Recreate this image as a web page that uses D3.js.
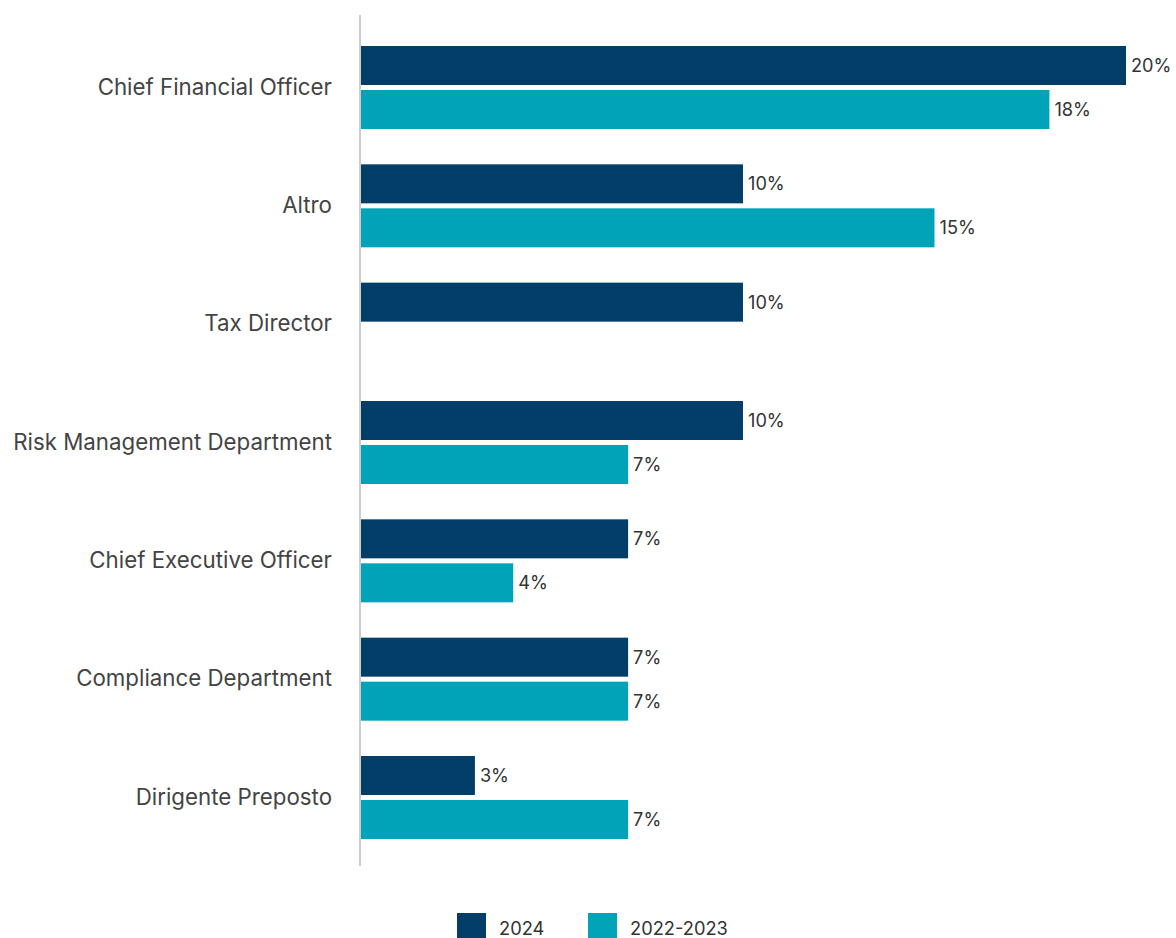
<!DOCTYPE html>
<html><head><meta charset="utf-8">
<script src="https://cdn.jsdelivr.net/npm/d3@7"></script>
<style>
html,body{margin:0;padding:0;background:#fff;}
svg{display:block;font-family:Inter, "Noto Sans", sans-serif;}
</style></head>
<body>
<svg id="chart" width="1176" height="938"></svg>
<script>
const categories = ["Chief Financial Officer","Altro","Tax Director","Risk Management Department","Chief Executive Officer","Compliance Department","Dirigente Preposto"];
const seriesNames = ["2024","2022-2023"];
const values2024 = [20,10,10,10,7,7,3];
const values2022 = [18,15,null,7,4,7,7];
const seriesColors = ["#023e68","#00a3b8"];

const svg = d3.select("#chart");
const x0 = 360;
const x = d3.scaleLinear().domain([0,20]).range([x0, 1126]);
const y = d3.scaleBand().domain(categories).range([28.33, 856.67]).paddingInner(0.2986).paddingOuter(0.1493);
const ySub = d3.scaleBand().domain(seriesNames).range([0, y.bandwidth()]).paddingInner(0.1136).paddingOuter(0);

const data = [];
categories.forEach((c,i)=>{
  data.push({cat:c, s:seriesNames[0], v:values2024[i]});
  data.push({cat:c, s:seriesNames[1], v:values2022[i]});
});
const color = d3.scaleOrdinal().domain(seriesNames).range(seriesColors);

const bars = data.filter(d=>d.v!=null);
svg.append("g").selectAll("rect").data(bars).join("rect")
  .attr("x", x(0))
  .attr("y", d=>y(d.cat)+ySub(d.s))
  .attr("width", d=>x(d.v)-x(0))
  .attr("height", ySub.bandwidth())
  .attr("fill", d=>color(d.s));

svg.append("g").selectAll("text").data(bars).join("text")
  .attr("x", d=>x(d.v)+5)
  .attr("y", d=>y(d.cat)+ySub(d.s)+ySub.bandwidth()/2)
  .attr("dy","0.36em")
  .attr("font-size", 18.2)
  .attr("fill", "#333")
  .text(d=>d.v+"%");

// axis line
svg.append("line").attr("x1",x0).attr("x2",x0).attr("y1",15).attr("y2",866)
  .attr("stroke","#cccccc").attr("stroke-width",2);

// category labels
const yAxis = d3.axisLeft(y).tickSize(0).tickPadding(28);
const gA = svg.append("g").attr("transform",`translate(${x0},0)`).call(yAxis);
gA.select(".domain").remove();
gA.selectAll("text").attr("font-size",22.3).attr("fill","#444").attr("font-family","Inter, 'Noto Sans', sans-serif");

// legend
const legX = [457, 588];
const leg = svg.append("g");
seriesNames.forEach((s,i)=>{
  leg.append("rect").attr("x",legX[i]).attr("y",913).attr("width",29).attr("height",29).attr("fill",color(s));
  leg.append("text").attr("x",legX[i]+42).attr("y",935).attr("font-size",18.3).attr("fill","#333").text(s);
});
</script>
</body></html>
